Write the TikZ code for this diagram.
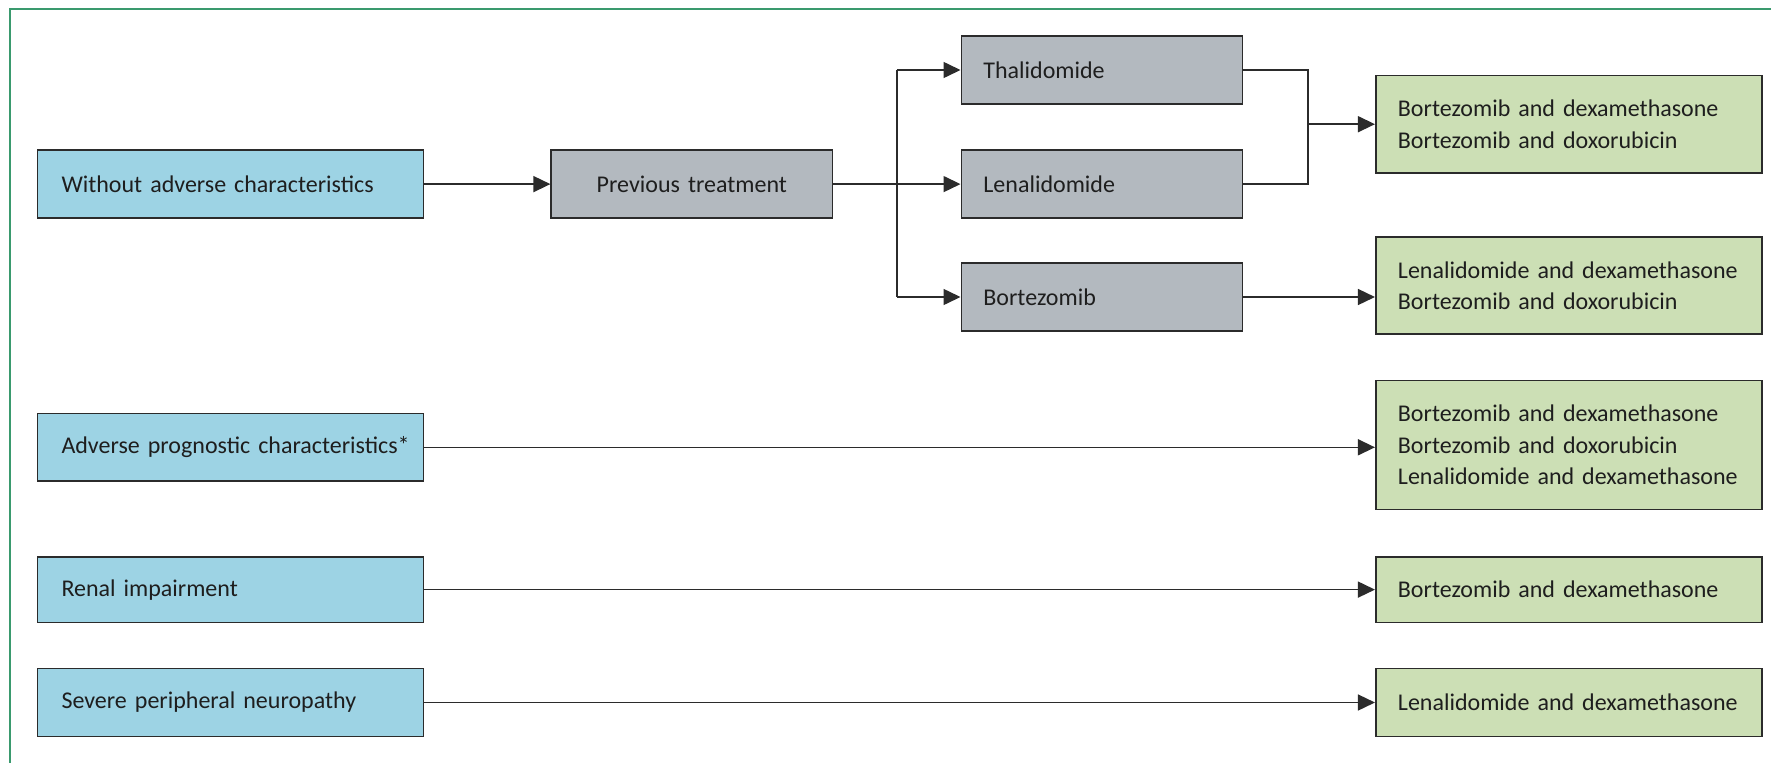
\documentclass[tikz,border=0pt]{standalone}
\usepackage{fontspec}
\setmainfont{Carlito}
\usetikzlibrary{arrows.meta}
\definecolor{bluefill}{HTML}{9DD3E4}
\definecolor{grayfill}{HTML}{B3B9BF}
\definecolor{greenfill}{HTML}{CCDFB5}
\definecolor{edge}{HTML}{2B2B2B}
\definecolor{frame}{HTML}{3A9A6E}
\definecolor{txt}{HTML}{1E1E1E}
\newcommand{\boxfont}{\fontsize{24}{31.6}\selectfont\spaceskip=3.6pt plus 1pt minus 1pt\relax}
\tikzset{
  box/.style={draw=edge, line width=1.6pt, rectangle, inner ysep=0pt,
    align=left, font=\boxfont, text=txt},
  bluebox/.style={box, fill=bluefill, minimum width=386.3pt, text width=338pt, inner xsep=24.15pt},
  graybox/.style={box, fill=grayfill, minimum width=281.2pt, text width=237pt, inner xsep=22.1pt},
  greenbox/.style={box, fill=greenfill, minimum width=386.3pt, text width=342pt, inner xsep=22.15pt},
  conn/.style={draw=edge, line width=1.5pt},
  arr/.style={conn, -{Triangle[length=17pt,width=16pt]}}
}
\begin{document}
\begin{tikzpicture}[x=1pt,y=-1pt]
\useasboundingbox (0,0) rectangle (1771,763);
\draw[frame, line width=1.5pt] (1771,9) -- (10,9) -- (10,763);

\node[bluebox, minimum height=67.8pt] (a1) at (230.5,184.1) {Without adverse characteristics};
\node[graybox, minimum height=67.8pt, align=center] (pt) at (691.8,184.1) {Previous treatment};
\node[graybox, minimum height=67.8pt] (thal) at (1101.9,70.0) {Thalidomide};
\node[graybox, minimum height=67.8pt] (lena) at (1101.9,184.1) {Lenalidomide};
\node[graybox, minimum height=67.8pt] (bort) at (1101.9,297.0) {Bortezomib};

\node[greenbox, minimum height=97.1pt] (g1) at (1568.9,124.2) {Bortezomib and dexamethasone\\Bortezomib and doxorubicin};
\node[greenbox, minimum height=97.1pt] (g2) at (1568.9,285.7) {Lenalidomide and dexamethasone\\Bortezomib and doxorubicin};
\node[greenbox, minimum height=128.8pt] (g3) at (1568.9,445.0) {Bortezomib and dexamethasone\\Bortezomib and doxorubicin\\Lenalidomide and dexamethasone};
\node[greenbox, minimum height=65.6pt] (g4) at (1568.9,589.6) {Bortezomib and dexamethasone};
\node[greenbox, minimum height=67.7pt] (g5) at (1568.9,702.5) {Lenalidomide and dexamethasone};

\node[bluebox, minimum height=67.8pt] (a2) at (230.5,447.3) {\mbox{Adverse prognostic characteristics*}};
\node[bluebox, minimum height=65.6pt] (a3) at (230.5,589.6) {Renal impairment};
\node[bluebox, minimum height=67.7pt] (a4) at (230.5,702.5) {Severe peripheral neuropathy};

% connectors
\draw[arr] (a1) -- (pt);
\coordinate (br) at (896.8,184.1);
\draw[arr] (pt) -- (lena);
\draw[conn] (br |- thal.west) -- (br |- bort.west);
\draw[arr] (br |- thal.west) -- (thal.west);
\draw[arr] (br |- bort.west) -- (bort.west);

\coordinate (mg) at (1307.9,124.2);
\draw[conn] (thal.east) -- (mg |- thal.east) -- (mg |- lena.east) -- (lena.east);
\draw[arr] (mg) -- (g1.west);
\draw[arr] (bort.east) -- (bort.east -| g2.west);
\draw[arr] (a2.east) -- (a2.east -| g3.west);
\draw[arr] (a3) -- (g4);
\draw[arr] (a4) -- (g5);
\end{tikzpicture}
\end{document}
